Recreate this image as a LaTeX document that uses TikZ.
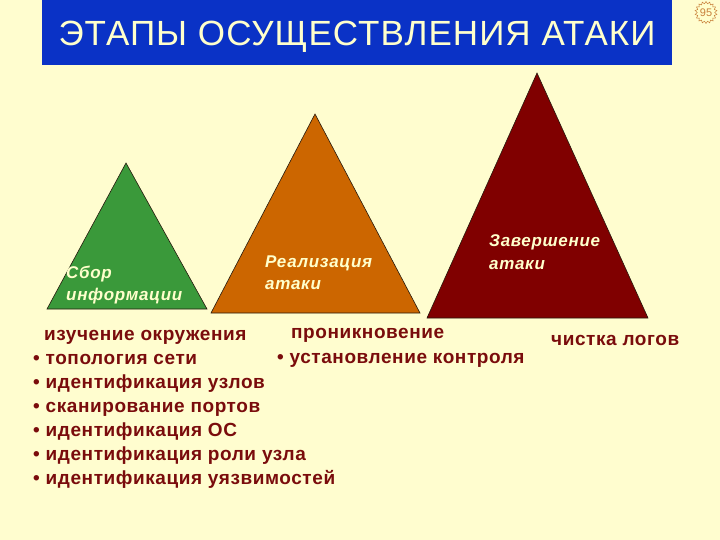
\documentclass[tikz,border=0pt]{standalone}
\usepackage{fontspec}
\setmainfont{Liberation Sans}
\usetikzlibrary{shapes.geometric}
\definecolor{bg}{HTML}{FFFDCF}
\definecolor{titleblue}{HTML}{0A32C6}
\definecolor{tgreen}{HTML}{3A993A}
\definecolor{torange}{HTML}{CC6600}
\definecolor{tred}{HTML}{800000}
\definecolor{txtred}{HTML}{7A0C0C}
\definecolor{cream}{HTML}{FFFFCC}
\definecolor{badge}{HTML}{C8803A}
\tikzset{
  tri/.style={draw=black!80!brown, line width=0.6pt},
  trilabel/.style={anchor=base west, inner sep=0pt, text=cream, font=\fontsize{17}{20}\selectfont\bfseries\itshape\addfontfeature{LetterSpace=4}, align=left},
  bodytext/.style={anchor=base west, inner sep=0pt, text=txtred, font=\fontsize{19}{22}\selectfont\bfseries\addfontfeature{LetterSpace=3}},
}
\begin{document}
\begin{tikzpicture}[x=1pt,y=-1pt]
\useasboundingbox (0,0) rectangle (720,540);
\fill[bg] (0,0) rectangle (720,540);
% title
\node[fill=titleblue, minimum width=630pt, minimum height=65pt, anchor=north west, inner sep=0pt] (titlebox) at (42,0) {};
\node[text=cream, anchor=base, inner sep=0pt, font=\fontsize{35}{40}\selectfont\addfontfeature{LetterSpace=3}] (title) at (357,45.5) {ЭТАПЫ ОСУЩЕСТВЛЕНИЯ АТАКИ};
% badge
\node[star, star points=18, star point ratio=1.25, minimum size=22pt, inner sep=0pt, fill=cream, draw=badge, line width=0.5pt] (badge) at (706,12.5) {};
\node[text=badge, font=\fontsize{11}{12}\selectfont] (pagenum) at (706,13) {95};
% triangles
\coordinate (g1) at (126,163); \coordinate (g2) at (47,309); \coordinate (g3) at (207,309);
\coordinate (o1) at (315,114); \coordinate (o2) at (211,313); \coordinate (o3) at (420,313);
\coordinate (r1) at (537,73); \coordinate (r2) at (427,318); \coordinate (r3) at (648,318);
\filldraw[tri, fill=tgreen] (g1) -- (g2) -- (g3) -- cycle;
\filldraw[tri, fill=torange] (o1) -- (o2) -- (o3) -- cycle;
\filldraw[tri, fill=tred] (r1) -- (r2) -- (r3) -- cycle;
\node[trilabel] (lab1a) at (66,278) {Сбор};
\node[trilabel] (lab1b) at (66,300) {информации};
\node[trilabel] (lab2a) at (265,267) {Реализация};
\node[trilabel] (lab2b) at (265,289) {атаки};
\node[trilabel] (lab3a) at (489,247) {Завершение};
\node[trilabel] (lab3b) at (489,269) {атаки};
% bottom texts
\node[bodytext] (l1) at (44,340.5) {изучение окружения};
\node[bodytext] (l2) at (33,364) {• топология сети};
\node[bodytext] (l3) at (33,388) {• идентификация узлов};
\node[bodytext] (l4) at (33,412) {• сканирование портов};
\node[bodytext] (l5) at (33,436) {• идентификация ОС};
\node[bodytext] (l6) at (33,460) {• идентификация роли узла};
\node[bodytext] (l7) at (33,484) {• идентификация уязвимостей};
\node[bodytext] (m1) at (291,338.5) {проникновение};
\node[bodytext] (m2) at (277,363.5) {• установление контроля};
\node[bodytext] (c1) at (551,345) {чистка логов};
\end{tikzpicture}
\end{document}
